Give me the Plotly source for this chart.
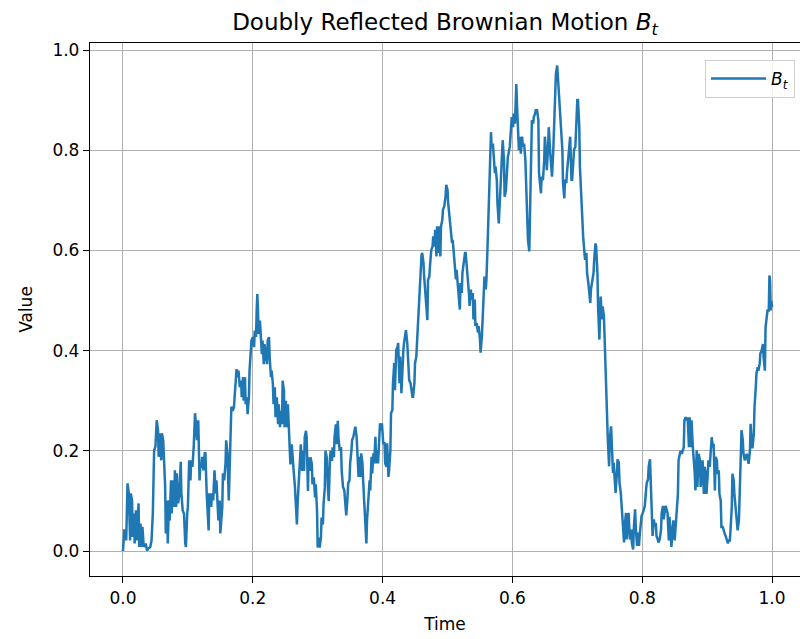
import plotly.graph_objects as go

# Sampled path of the doubly reflected Brownian motion on [0, 1]
time = [
    0.000, 0.002, 0.004, 0.005, 0.007, 0.009, 0.011, 0.012, 0.014, 0.015, 0.017, 0.018,
    0.020, 0.022, 0.024, 0.025, 0.027, 0.029, 0.030, 0.032, 0.035, 0.037, 0.039, 0.042,
    0.044, 0.046, 0.048, 0.050, 0.052, 0.054, 0.055, 0.057, 0.059, 0.060, 0.062, 0.063,
    0.065, 0.066, 0.068, 0.069, 0.071, 0.072, 0.074, 0.075, 0.077, 0.079, 0.080, 0.082,
    0.083, 0.085, 0.087, 0.089, 0.090, 0.092, 0.094, 0.096, 0.097, 0.099, 0.100, 0.102,
    0.104, 0.105, 0.107, 0.109, 0.111, 0.112, 0.114, 0.116, 0.118, 0.119, 0.121, 0.122,
    0.124, 0.126, 0.127, 0.129, 0.130, 0.132, 0.133, 0.136, 0.137, 0.139, 0.141, 0.143,
    0.144, 0.146, 0.147, 0.149, 0.150, 0.153, 0.154, 0.156, 0.158, 0.159, 0.161, 0.163,
    0.164, 0.166, 0.167,
    0.169, 0.171, 0.172, 0.174, 0.175, 0.177, 0.178, 0.180, 0.182, 0.183, 0.185, 0.186,
    0.188, 0.189, 0.191, 0.192, 0.194, 0.195, 0.197, 0.198, 0.200, 0.202, 0.203, 0.205,
    0.206, 0.207, 0.208, 0.209, 0.211, 0.212, 0.214, 0.215, 0.217, 0.218, 0.220, 0.222,
    0.223, 0.225, 0.226, 0.228, 0.229, 0.231, 0.232, 0.234, 0.235, 0.237, 0.239, 0.240,
    0.242, 0.243, 0.245, 0.246, 0.248, 0.249, 0.251, 0.252, 0.254, 0.255, 0.257, 0.258,
    0.260, 0.262, 0.263, 0.265, 0.266, 0.268, 0.269, 0.271, 0.272, 0.274, 0.276, 0.277,
    0.279, 0.280, 0.282, 0.283, 0.285, 0.286, 0.288, 0.289, 0.291, 0.292, 0.294, 0.296,
    0.297, 0.299, 0.300, 0.302, 0.303, 0.305, 0.306, 0.308, 0.309, 0.311, 0.312, 0.314,
    0.316, 0.317, 0.319, 0.320, 0.322, 0.323, 0.325, 0.326, 0.328, 0.329, 0.331, 0.332,
    0.334, 0.336, 0.337,
    0.338, 0.339, 0.341, 0.342, 0.344, 0.346, 0.347, 0.349, 0.350, 0.352, 0.353, 0.355,
    0.357, 0.358, 0.360, 0.361, 0.363, 0.364, 0.366, 0.367, 0.369, 0.370, 0.372, 0.373,
    0.375, 0.376, 0.378, 0.380, 0.381, 0.383, 0.384, 0.386, 0.387, 0.389, 0.390, 0.392,
    0.393, 0.395, 0.396, 0.398, 0.399, 0.401, 0.403, 0.404, 0.406, 0.407, 0.409, 0.410,
    0.412, 0.413, 0.415, 0.416, 0.418, 0.419, 0.421, 0.423, 0.424, 0.426, 0.427, 0.429,
    0.430, 0.432, 0.433, 0.435, 0.436, 0.438, 0.440, 0.441, 0.443, 0.444, 0.446, 0.447,
    0.449, 0.450, 0.452, 0.453, 0.455, 0.457, 0.458, 0.460, 0.461, 0.463, 0.464, 0.466,
    0.467, 0.469, 0.470, 0.472, 0.473, 0.475, 0.477, 0.478, 0.480, 0.481, 0.483, 0.484,
    0.486, 0.487, 0.489, 0.490, 0.492, 0.493, 0.495, 0.497, 0.498, 0.500, 0.501, 0.502,
    0.504, 0.506, 0.507,
    0.508, 0.510, 0.511, 0.513, 0.514, 0.516, 0.517, 0.519, 0.520, 0.522, 0.523, 0.525,
    0.527, 0.528, 0.530, 0.531, 0.533, 0.534, 0.536, 0.537, 0.539, 0.540, 0.542, 0.543,
    0.545, 0.547, 0.548, 0.550, 0.551, 0.553, 0.554, 0.556, 0.557, 0.559, 0.560, 0.562,
    0.564, 0.565, 0.567, 0.568, 0.570, 0.571, 0.573, 0.574, 0.576, 0.577, 0.579, 0.581,
    0.582, 0.584, 0.585, 0.587, 0.588, 0.590, 0.591, 0.593, 0.594, 0.596, 0.597, 0.599,
    0.601, 0.602, 0.604, 0.605, 0.606, 0.607, 0.609, 0.610, 0.612, 0.613, 0.615, 0.616,
    0.618, 0.620, 0.621, 0.623, 0.624, 0.626, 0.627, 0.629, 0.630, 0.632, 0.633, 0.635,
    0.636, 0.638, 0.640, 0.641, 0.642, 0.644, 0.645, 0.647, 0.649, 0.650, 0.652, 0.653,
    0.655, 0.656, 0.658, 0.660, 0.661, 0.663, 0.664, 0.666, 0.667, 0.669, 0.670, 0.672,
    0.673, 0.675, 0.677,
    0.678, 0.680, 0.681, 0.683, 0.684, 0.686, 0.688, 0.689, 0.691, 0.692, 0.694, 0.695,
    0.697, 0.698, 0.700, 0.701, 0.703, 0.704, 0.706, 0.708, 0.709, 0.711, 0.712, 0.714,
    0.715, 0.717, 0.718, 0.720, 0.721, 0.723, 0.725, 0.726, 0.728, 0.729, 0.731, 0.732,
    0.734, 0.735, 0.736, 0.738, 0.739, 0.741, 0.742, 0.744, 0.745, 0.747, 0.749, 0.750,
    0.752, 0.753, 0.755, 0.756, 0.758, 0.759, 0.761, 0.762, 0.764, 0.765, 0.767, 0.769,
    0.770, 0.772, 0.773, 0.775, 0.776, 0.778, 0.779, 0.781, 0.783, 0.784, 0.786, 0.787,
    0.789, 0.790, 0.792, 0.793, 0.795, 0.796, 0.798, 0.799, 0.801, 0.803, 0.804, 0.806,
    0.807, 0.809, 0.810, 0.812, 0.813, 0.815, 0.816, 0.818, 0.819, 0.821, 0.822, 0.824,
    0.825, 0.827, 0.829, 0.830, 0.832, 0.833, 0.835, 0.836, 0.839,
    0.841, 0.842, 0.844, 0.845, 0.847, 0.848, 0.850, 0.852, 0.853, 0.855, 0.856, 0.858,
    0.859, 0.861, 0.862, 0.864, 0.865, 0.867, 0.869, 0.870, 0.872, 0.873, 0.875, 0.876,
    0.878, 0.879, 0.881, 0.882, 0.884, 0.885, 0.887, 0.889, 0.890, 0.892, 0.893, 0.895,
    0.896, 0.898, 0.899, 0.901, 0.902, 0.904, 0.905, 0.907, 0.909, 0.910, 0.912, 0.913,
    0.915, 0.916, 0.918, 0.919, 0.921, 0.922, 0.924, 0.925, 0.927, 0.929, 0.930, 0.932,
    0.933, 0.935, 0.936, 0.938, 0.939, 0.941, 0.942, 0.944, 0.946, 0.947, 0.949, 0.950,
    0.952, 0.953, 0.955, 0.956, 0.958, 0.959, 0.961, 0.963, 0.964, 0.966, 0.967, 0.969,
    0.970, 0.972, 0.973, 0.975, 0.976, 0.978, 0.979, 0.981, 0.982, 0.984, 0.986, 0.987,
    0.989, 0.990, 0.992, 0.993, 0.995, 0.996, 0.997, 0.998, 0.999, 1.000,
]

value = [
    0.000, 0.041, 0.041, 0.021, 0.135, 0.115, 0.021, 0.115, 0.101, 0.028, 0.075, 0.015,
    0.081, 0.021, 0.095, 0.008, 0.055, 0.008, 0.048, 0.008, 0.015, 0.001, 0.005, 0.008,
    0.021, 0.075, 0.201, 0.208, 0.261, 0.241, 0.188, 0.235, 0.181, 0.235, 0.221, 0.181,
    0.128, 0.035, 0.101, 0.015, 0.101, 0.061, 0.141, 0.075, 0.141, 0.088, 0.161, 0.088,
    0.155, 0.095, 0.115, 0.178, 0.115, 0.081, 0.075, 0.015, 0.008, 0.075, 0.088, 0.181,
    0.141, 0.181, 0.168, 0.208, 0.275, 0.261, 0.221, 0.261, 0.141, 0.168, 0.168, 0.188,
    0.161, 0.195, 0.195, 0.115, 0.088, 0.041, 0.115, 0.088, 0.115, 0.101, 0.161, 0.115,
    0.141, 0.075, 0.061, 0.101, 0.035, 0.088, 0.155, 0.141, 0.175, 0.221, 0.195, 0.101,
    0.141, 0.208, 0.288,
    0.280, 0.287, 0.307, 0.360, 0.363, 0.347, 0.360, 0.327, 0.340, 0.307, 0.347, 0.300,
    0.347, 0.293, 0.307, 0.273, 0.307, 0.360, 0.393, 0.420, 0.427, 0.407, 0.440, 0.427,
    0.480, 0.513, 0.480, 0.433, 0.460, 0.427, 0.393, 0.420, 0.373, 0.413, 0.387, 0.373,
    0.420, 0.427, 0.387, 0.347, 0.360, 0.333, 0.293, 0.327, 0.267, 0.307, 0.253, 0.293,
    0.247, 0.280, 0.253, 0.340, 0.320, 0.247, 0.300, 0.247, 0.293, 0.253, 0.213, 0.173,
    0.213, 0.187, 0.160, 0.127, 0.093, 0.053, 0.093, 0.147, 0.187, 0.213, 0.160, 0.200,
    0.160, 0.227, 0.240, 0.227, 0.120, 0.187, 0.160, 0.187, 0.173, 0.133, 0.147, 0.107,
    0.133, 0.080, 0.007, 0.027, 0.007, 0.027, 0.067, 0.053, 0.093, 0.127, 0.200, 0.187,
    0.120, 0.100, 0.187, 0.200, 0.180, 0.207, 0.187, 0.227, 0.253, 0.213, 0.260, 0.227,
    0.200, 0.207, 0.160,
    0.148, 0.128, 0.121, 0.108, 0.071, 0.108, 0.135, 0.141, 0.175, 0.201, 0.221, 0.228,
    0.238, 0.248, 0.228, 0.201, 0.148, 0.188, 0.148, 0.195, 0.175, 0.141, 0.095, 0.048,
    0.015, 0.061, 0.095, 0.141, 0.121, 0.188, 0.155, 0.195, 0.175, 0.228, 0.175, 0.201,
    0.175, 0.221, 0.255, 0.241, 0.255, 0.215, 0.215, 0.175, 0.168, 0.215, 0.148, 0.161,
    0.201, 0.275, 0.281, 0.335, 0.375, 0.321, 0.401, 0.408, 0.415, 0.335, 0.388, 0.315,
    0.361, 0.401, 0.415, 0.435, 0.441, 0.415, 0.375, 0.341, 0.335, 0.321, 0.308, 0.308,
    0.335, 0.375, 0.388, 0.415, 0.475, 0.521, 0.561, 0.591, 0.595, 0.575, 0.548, 0.508,
    0.481, 0.461, 0.541, 0.548, 0.568, 0.601, 0.608, 0.628, 0.608, 0.641, 0.588, 0.648,
    0.595, 0.648, 0.588, 0.648, 0.661, 0.681, 0.688, 0.708, 0.731, 0.721, 0.695, 0.681,
    0.668, 0.641, 0.615,
    0.621, 0.581, 0.562, 0.542, 0.561, 0.528, 0.502, 0.482, 0.535, 0.515, 0.555, 0.581,
    0.595, 0.595, 0.568, 0.542, 0.515, 0.489, 0.522, 0.502, 0.515, 0.462, 0.502, 0.449,
    0.455, 0.436, 0.449, 0.423, 0.396, 0.429, 0.462, 0.515, 0.548, 0.522, 0.542, 0.621,
    0.714, 0.793, 0.836, 0.807, 0.813, 0.793, 0.754, 0.767, 0.740, 0.694, 0.654, 0.707,
    0.740, 0.787, 0.820, 0.780, 0.707, 0.720, 0.754, 0.787, 0.793, 0.807, 0.827, 0.866,
    0.846, 0.873, 0.853, 0.926, 0.932, 0.893, 0.833, 0.800, 0.827, 0.793, 0.827, 0.807,
    0.813, 0.780, 0.740, 0.681, 0.621, 0.598, 0.687, 0.800, 0.860, 0.853, 0.866, 0.873,
    0.880, 0.880, 0.860, 0.754, 0.740, 0.714, 0.747, 0.740, 0.780, 0.827, 0.793, 0.760,
    0.807, 0.846, 0.800, 0.754, 0.747, 0.800, 0.853, 0.932, 0.952, 0.969, 0.946, 0.913,
    0.893, 0.846, 0.800,
    0.734, 0.704, 0.741, 0.734, 0.754, 0.787, 0.820, 0.827, 0.741, 0.741, 0.781, 0.801,
    0.807, 0.854, 0.900, 0.900, 0.847, 0.767, 0.701, 0.635, 0.628, 0.595, 0.581, 0.595,
    0.555, 0.535, 0.515, 0.495, 0.522, 0.542, 0.555, 0.581, 0.614, 0.608, 0.555, 0.488,
    0.422, 0.469, 0.508, 0.462, 0.488, 0.469, 0.422, 0.355, 0.289, 0.223, 0.169, 0.223,
    0.249, 0.203, 0.156, 0.176, 0.143, 0.116, 0.156, 0.183, 0.176, 0.136, 0.116, 0.083,
    0.063, 0.017, 0.050, 0.076, 0.023, 0.050, 0.076, 0.023, 0.043, 0.017, 0.003, 0.043,
    0.083, 0.050, 0.010, 0.037, 0.010, 0.030, 0.050, 0.070, 0.076, 0.083, 0.090, 0.123,
    0.136, 0.143, 0.169, 0.183, 0.130, 0.063, 0.030, 0.063, 0.050, 0.056, 0.030, 0.023,
    0.017, 0.023, 0.043, 0.076, 0.090, 0.063, 0.076, 0.090, 0.076,
    0.021, 0.068, 0.035, 0.008, 0.048, 0.061, 0.021, 0.061, 0.081, 0.114, 0.181, 0.194,
    0.200, 0.194, 0.200, 0.207, 0.261, 0.267, 0.261, 0.267, 0.207, 0.267, 0.207, 0.261,
    0.207, 0.194, 0.154, 0.121, 0.201, 0.128, 0.194, 0.181, 0.128, 0.154, 0.181, 0.114,
    0.168, 0.154, 0.114, 0.154, 0.181, 0.168, 0.194, 0.227, 0.207, 0.214, 0.121, 0.188,
    0.181, 0.154, 0.161, 0.114, 0.100, 0.048, 0.048, 0.041, 0.035, 0.028, 0.021, 0.015,
    0.021, 0.021, 0.041, 0.088, 0.154, 0.141, 0.114, 0.081, 0.061, 0.041, 0.061, 0.108,
    0.188, 0.241, 0.221, 0.194, 0.181, 0.188, 0.194, 0.181, 0.174, 0.201, 0.254, 0.207,
    0.207, 0.234, 0.287, 0.327, 0.354, 0.367, 0.360, 0.374, 0.394, 0.400, 0.413, 0.387,
    0.360, 0.446, 0.467, 0.480, 0.480, 0.550, 0.540, 0.480, 0.500, 0.487,
]

tick_vals = [0.0, 0.2, 0.4, 0.6, 0.8, 1.0]
tick_text = ["0.0", "0.2", "0.4", "0.6", "0.8", "1.0"]

FONT = "DejaVu Sans"
BLUE = "#1f77b4"
GRID = "#b0b0b0"

fig = go.Figure()
fig.add_trace(go.Scatter(
    x=time, y=value, mode="lines",
    line=dict(color=BLUE, width=2.5),
    name="<i>B</i><sub><i>t</i></sub>",
    showlegend=True,
))

axis_common = dict(
    showgrid=True, gridcolor=GRID, gridwidth=1.2,
    zeroline=False,
    showline=True, linecolor="black", linewidth=1.3,
    ticks="outside", ticklen=6, tickwidth=1.3, tickcolor="black",
    tickfont=dict(family=FONT, size=17, color="black"),
    tickvals=tick_vals, ticktext=tick_text,
)

fig.update_layout(
    width=800, height=639,
    margin=dict(l=90, r=0, t=43, b=63),
    paper_bgcolor="white", plot_bgcolor="white",
    font=dict(family=FONT, size=17, color="black"),
    title=dict(
        text="Doubly Reflected Brownian Motion <i>B</i><sub><i>t</i></sub>",
        x=0.5, xref="paper", xanchor="center",
        y=1 - 22 / 639, yref="container", yanchor="middle",
        font=dict(family=FONT, size=23, color="black"),
    ),
    xaxis=dict(
        range=[-0.0508, 1.0431], mirror=True,
        title=dict(text="Time", font=dict(family=FONT, size=17), standoff=11),
        **axis_common,
    ),
    yaxis=dict(
        range=[-0.0499, 1.014], mirror=False,
        title=dict(text="Value", font=dict(family=FONT, size=17), standoff=15),
        **axis_common,
    ),
    legend=dict(
        x=(795 - 90) / 710, xanchor="right",
        y=(576 - 60) / 533, yanchor="top",
        bgcolor="rgba(255,255,255,0.8)", bordercolor="#d0d0d0", borderwidth=1,
        font=dict(family=FONT, size=17),
        itemwidth=55,
    ),
)

fig.write_html("out.html")
